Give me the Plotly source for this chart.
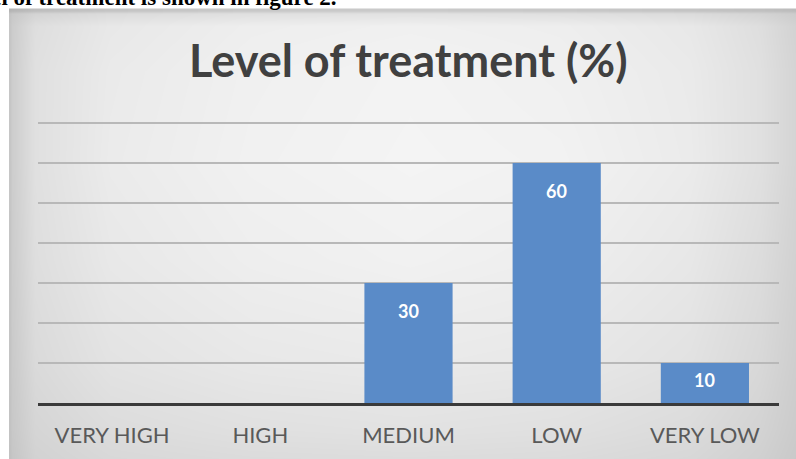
import plotly.graph_objects as go

# ---- data ----
categories = ["VERY HIGH", "HIGH", "MEDIUM", "LOW", "VERY LOW"]
values = [0, 0, 30, 60, 10]
label_values = [None, None, 30, 60, 10]
title_text = "Level of treatment (%)"
doc_text = "The level of treatment is shown in figure 2."

# ---- background (sampled grey levels of the chart panel) ----
bg_x = [10, 12, 35, 110, 250, 410, 560, 690, 760, 796]
bg_y = [10, 13, 25, 70, 160, 260, 360, 430, 459]
bg_z = [
    [180, 182, 190, 196, 200, 202, 200, 196, 192, 188],
    [196, 200, 212, 220, 224, 226, 224, 220, 212, 204],
    [198, 204, 222, 232, 238, 240, 238, 232, 222, 210],
    [198, 205, 224, 234, 240, 243, 240, 234, 224, 212],
    [198, 205, 224, 235, 241, 244, 242, 235, 224, 212],
    [197, 204, 222, 232, 238, 241, 238, 231, 220, 209],
    [196, 202, 218, 227, 232, 234, 232, 226, 216, 206],
    [195, 200, 213, 220, 224, 226, 224, 219, 211, 203],
    [194, 198, 210, 216, 219, 220, 219, 215, 208, 201],
]

W, H = 796, 459
plot_left, plot_right = 38, 779
plot_bottom = 403
px_per_unit = 4.0
y_max = 70.3
plot_top = plot_bottom - y_max * px_per_unit

fig = go.Figure()

fig.add_trace(go.Heatmap(
    x=bg_x, y=bg_y, z=bg_z, zmin=0, zmax=255,
    colorscale=[[0, "black"], [1, "white"]], showscale=False,
    zsmooth="best", hoverinfo="skip", xaxis="x", yaxis="y",
))

fig.add_trace(go.Bar(
    x=categories, y=values, marker=dict(color="#5a8bc8", line=dict(width=0)),
    xaxis="x2", yaxis="y2", hoverinfo="x+y",
))

annotations = []
for c, v in zip(categories, label_values):
    if v is None:
        continue
    bar_px = v * px_per_unit
    shift = min(15, bar_px / 2 - 16)
    annotations.append(dict(
        x=c, y=v, xref="x2", yref="y2", text=str(v), showarrow=False,
        yanchor="top", yshift=-shift,
        font=dict(family="Lato", size=18, color="white", weight="bold"),
    ))

annotations.append(dict(
    x=408.5 / W, y=1 - 60 / H, xref="paper", yref="paper", text=title_text,
    showarrow=False, xanchor="center", yanchor="middle",
    font=dict(family="Lato", size=45, color="#404040", weight="bold"),
))
annotations.append(dict(
    x=339 / W, y=1 - 12 / H, xref="paper", yref="paper", text=doc_text,
    showarrow=False, xanchor="right", yanchor="bottom",
    font=dict(family="Liberation Serif", size=23, color="black", weight="bold"),
))

fig.update_layout(
    width=W, height=H, margin=dict(l=0, r=0, t=0, b=0, pad=0),
    paper_bgcolor="white", plot_bgcolor="rgba(0,0,0,0)",
    showlegend=False, bargap=0.405,
    xaxis=dict(domain=[0, 1], range=[0, W], visible=False, fixedrange=True),
    yaxis=dict(domain=[0, 1], range=[H, 0], visible=False, fixedrange=True),
    xaxis2=dict(
        domain=[plot_left / W, plot_right / W], anchor="y2",
        showline=True, linecolor="#3a3a3a", linewidth=3,
        showgrid=False, ticks="", ticklabelstandoff=11,
        tickfont=dict(family="Lato", size=22, color="#595959"),
    ),
    yaxis2=dict(
        domain=[1 - plot_bottom / H, 1 - plot_top / H], anchor="x2",
        range=[0, y_max], dtick=10, showgrid=True, gridcolor="#b8b8b8",
        gridwidth=1.5, zeroline=False, showticklabels=False, ticks="",
    ),
    annotations=annotations,
)

fig.write_html("out.html")
